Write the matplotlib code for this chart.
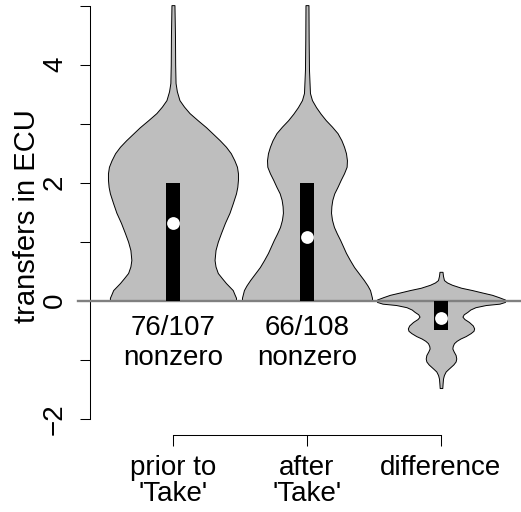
import numpy as np
import matplotlib
matplotlib.use("Agg")
import matplotlib.pyplot as plt

plt.rcParams['font.family'] = ['Liberation Sans', 'DejaVu Sans']

groups = ["prior to\n'Take'", "after\n'Take'", "difference"]
nonzero = ["76/107", "66/108", None]

# violin outlines: y value and relative density (max = 1)
prior_y = [5.01, 4.5, 4.0, 3.69, 3.55, 3.40, 3.29, 3.18, 3.06, 2.94, 2.83, 2.72,
           2.61, 2.50, 2.38, 2.27, 2.16, 2.05, 1.93, 1.82, 1.65, 1.49, 1.32, 1.15,
           1.0, 0.86, 0.69, 0.58, 0.47, 0.38, 0.30, 0.18, 0.10, 0.05, 0.0]
prior_d = [0.023, 0.031, 0.034, 0.04, 0.06, 0.10, 0.17, 0.255, 0.38, 0.51, 0.615, 0.72,
           0.815, 0.89, 0.945, 0.985, 1.0, 1.0, 0.99, 0.97, 0.92, 0.87, 0.80, 0.74,
           0.69, 0.655, 0.64, 0.655, 0.69, 0.755, 0.815, 0.92, 0.95, 0.97, 0.97]

after_y = [5.01, 4.42, 3.91, 3.52, 3.40, 3.28, 3.17, 3.06, 2.95, 2.84, 2.72, 2.61,
           2.50, 2.38, 2.27, 2.16, 2.05, 1.93, 1.82, 1.71, 1.60, 1.49, 1.37, 1.25,
           1.14, 1.03, 0.92, 0.81, 0.69, 0.57, 0.46, 0.35, 0.26, 0.18, 0.05, 0.0]
after_d = [0.023, 0.026, 0.031, 0.046, 0.077, 0.14, 0.21, 0.29, 0.385, 0.47, 0.53, 0.57,
           0.60, 0.615, 0.61, 0.57, 0.52, 0.47, 0.42, 0.39, 0.375, 0.37, 0.385, 0.415,
           0.46, 0.51, 0.555, 0.60, 0.66, 0.725, 0.80, 0.875, 0.93, 0.97, 1.0, 1.0]

diff_y = [0.49, 0.42, 0.35, 0.31, 0.27, 0.22, 0.18, 0.14, 0.10, 0.06, 0.02, -0.02,
          -0.05, -0.073, -0.11, -0.15, -0.19, -0.23, -0.27, -0.31, -0.36, -0.42,
          -0.47, -0.51, -0.55, -0.60, -0.64, -0.68, -0.72, -0.77, -0.81, -0.86,
          -0.92, -0.98, -1.03, -1.08, -1.12, -1.16, -1.2, -1.26, -1.32, -1.4, -1.48]
diff_d = [0.023, 0.031, 0.046, 0.092, 0.17, 0.31, 0.48, 0.63, 0.785, 0.89, 0.985, 0.985,
          0.9, 0.69, 0.53, 0.45, 0.405, 0.35, 0.33, 0.36, 0.43, 0.49,
          0.51, 0.50, 0.455, 0.38, 0.30, 0.24, 0.20, 0.18, 0.175, 0.195,
          0.225, 0.235, 0.225, 0.19, 0.15, 0.11, 0.072, 0.045, 0.031, 0.025, 0.02]

box_lo = [0, 0, -0.5]
box_hi = [2, 2, 0]
medians = [1.32, 1.08, -0.30]

fig = plt.figure(figsize=(5.21, 5.12), dpi=100)
ax = fig.add_axes([90 / 521, 77 / 512, 431 / 521, 435 / 512])
ax.set_xlim(0.381, 3.597)
ax.set_ylim(-2.276, 5.097)

half = 0.485
shapes = [(prior_y, prior_d), (after_y, after_d), (diff_y, diff_d)]
for i, (yy, dd) in enumerate(shapes):
    pos = i + 1
    yy = np.array(yy)
    dd = np.array(dd)
    ax.fill_betweenx(yy, pos - half * dd, pos + half * dd, facecolor='#BEBEBE',
                     edgecolor='black', linewidth=0.7, zorder=2)

ax.axhline(0, xmin=-12 / 431, xmax=1, color='#808080', lw=1.7, clip_on=False, zorder=3)

pos = np.arange(1, 4)
ax.bar(pos, np.array(box_hi) - np.array(box_lo), bottom=box_lo, width=0.105,
       color='black', zorder=4)
ax.plot(pos, medians, 'o', color='white', ms=9.2, mec='none', zorder=5)

for p, lab in zip(pos, nonzero):
    if lab is None:
        continue
    ax.text(p, -0.58, lab, ha='center', va='baseline', fontsize=20)
    ax.text(p, -1.09, 'nonzero', ha='center', va='baseline', fontsize=20)

for s in ['top', 'right']:
    ax.spines[s].set_visible(False)
ax.spines['left'].set_bounds(-2, 5)
ax.spines['bottom'].set_bounds(1, 3)
ax.spines['left'].set_linewidth(0.75)
ax.spines['bottom'].set_linewidth(0.75)

ax.set_yticks(range(-2, 6))
ax.set_yticklabels(['\u22122', '', '0', '', '2', '', '4', ''])
ax.tick_params(axis='y', length=7.2, width=0.75, labelsize=20, labelrotation=90, pad=8.6)
for t in ax.get_yticklabels():
    t.set_va('center')

ax.set_xticks(pos)
ax.set_xticklabels(groups, linespacing=1.0)
ax.tick_params(axis='x', length=8, width=0.75, labelsize=20, pad=6.5)

ax.set_ylabel('transfers in ECU', fontsize=21)
ax.yaxis.set_label_coords(-0.1137, 0.503)

fig.savefig('out.png', dpi=100)
